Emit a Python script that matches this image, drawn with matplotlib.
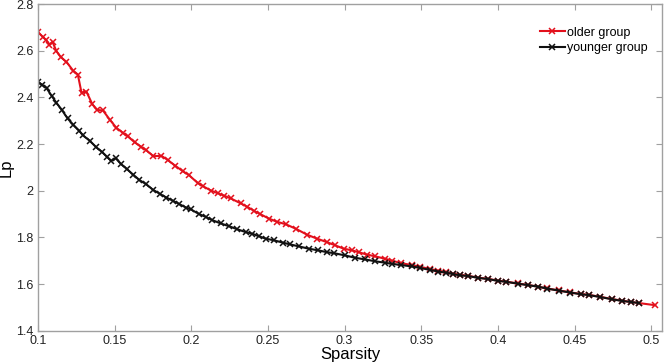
import numpy as np
import matplotlib
matplotlib.use('Agg')
import matplotlib.pyplot as plt

plt.rcParams['font.family'] = ['Liberation Sans', 'DejaVu Sans']

# older group (red)
older_x = [0.1000, 0.1030, 0.1055, 0.1075, 0.1095, 0.1120, 0.1150, 0.1186, 0.1230, 0.1260,
           0.1284, 0.1316, 0.1355, 0.1388, 0.1424, 0.1468, 0.1511, 0.1554, 0.1586, 0.1630,
           0.1673, 0.1706, 0.1753, 0.1805, 0.1846, 0.1896, 0.1944, 0.1983, 0.2041, 0.2078,
           0.2128, 0.2171, 0.2214, 0.2258, 0.2323, 0.2366, 0.2409, 0.2450, 0.2506, 0.2560,
           0.2615, 0.2680, 0.2755, 0.2820, 0.2885, 0.2940, 0.2994, 0.3048, 0.3091, 0.3145,
           0.3200, 0.3264, 0.3307, 0.3370, 0.3437, 0.3490, 0.3557, 0.3610, 0.3664, 0.3708,
           0.3751, 0.3805, 0.3870, 0.3935, 0.4000, 0.4054, 0.4130, 0.4195, 0.4264, 0.4320,
           0.4400, 0.4472, 0.4541, 0.4595, 0.4667, 0.4747, 0.4812, 0.4866, 0.4920, 0.5026]
older_lp = [2.680, 2.660, 2.645, 2.625, 2.638, 2.598, 2.572, 2.552, 2.514, 2.498,
            2.420, 2.425, 2.370, 2.346, 2.344, 2.305, 2.270, 2.248, 2.233, 2.208,
            2.188, 2.174, 2.148, 2.150, 2.132, 2.107, 2.084, 2.068, 2.034, 2.019,
            2.001, 1.990, 1.979, 1.967, 1.946, 1.931, 1.914, 1.900, 1.881, 1.867,
            1.857, 1.838, 1.812, 1.795, 1.780, 1.766, 1.752, 1.745, 1.737, 1.727,
            1.719, 1.709, 1.701, 1.690, 1.682, 1.675, 1.665, 1.658, 1.652, 1.645,
            1.640, 1.636, 1.628, 1.623, 1.615, 1.611, 1.603, 1.597, 1.589, 1.582,
            1.573, 1.565, 1.558, 1.554, 1.546, 1.536, 1.529, 1.524, 1.519, 1.510]

# younger group (black)
younger_x = [0.1000, 0.1025, 0.1056, 0.1089, 0.1120, 0.1154, 0.1193, 0.1230, 0.1268, 0.1294,
             0.1338, 0.1381, 0.1420, 0.1450, 0.1479, 0.1506, 0.1543, 0.1580, 0.1623, 0.1662,
             0.1706, 0.1749, 0.1797, 0.1838, 0.1881, 0.1922, 0.1966, 0.1998, 0.2052, 0.2095,
             0.2138, 0.2193, 0.2247, 0.2301, 0.2355, 0.2398, 0.2442, 0.2485, 0.2539, 0.2597,
             0.2647, 0.2701, 0.2766, 0.2827, 0.2885, 0.2929, 0.3004, 0.3069, 0.3134, 0.3200,
             0.3264, 0.3307, 0.3370, 0.3437, 0.3490, 0.3557, 0.3610, 0.3664, 0.3708, 0.3751,
             0.3805, 0.3870, 0.3935, 0.4000, 0.4054, 0.4130, 0.4195, 0.4264, 0.4320, 0.4400,
             0.4472, 0.4541, 0.4595, 0.4667, 0.4747, 0.4812, 0.4866, 0.4920]
younger_lp = [2.466, 2.455, 2.440, 2.407, 2.377, 2.348, 2.310, 2.283, 2.258, 2.237,
              2.214, 2.186, 2.165, 2.146, 2.128, 2.140, 2.114, 2.093, 2.068, 2.046,
              2.028, 2.005, 1.986, 1.971, 1.957, 1.943, 1.928, 1.920, 1.900, 1.888,
              1.874, 1.860, 1.848, 1.835, 1.823, 1.816, 1.805, 1.795, 1.788, 1.778,
              1.770, 1.762, 1.752, 1.745, 1.737, 1.733, 1.723, 1.713, 1.706, 1.698,
              1.692, 1.687, 1.682, 1.676, 1.670, 1.661, 1.654, 1.649, 1.643, 1.638,
              1.635, 1.627, 1.622, 1.614, 1.610, 1.602, 1.596, 1.589, 1.581, 1.572,
              1.564, 1.557, 1.553, 1.545, 1.535, 1.528, 1.524, 1.519]

x_ticks = [0.1, 0.15, 0.2, 0.25, 0.3, 0.35, 0.4, 0.45, 0.5]
y_ticks = [1.4, 1.6, 1.8, 2.0, 2.2, 2.4, 2.6, 2.8]

fig = plt.figure(figsize=(6.66, 3.64), dpi=100)
ax = fig.add_axes([0.057, 0.091, 0.937, 0.898])

ax.plot(older_x, older_lp, color='#e3101c', linestyle='-', linewidth=1.5,
        marker='x', markersize=4, markeredgewidth=1.1, label='older group')
ax.plot(younger_x, younger_lp, color='#111111', linestyle='-', linewidth=1.5,
        marker='x', markersize=4, markeredgewidth=1.1, label='younger group')

ax.set_xlim(0.1, 0.507)
ax.set_ylim(1.4, 2.8)
ax.set_xticks(x_ticks)
ax.set_xticklabels(['0.1', '0.15', '0.2', '0.25', '0.3', '0.35', '0.4', '0.45', '0.5'])
ax.set_yticks(y_ticks)
ax.set_yticklabels(['1.4', '1.6', '1.8', '2', '2.2', '2.4', '2.6', '2.8'])

for s in ax.spines.values():
    s.set_color('#a0a0a0')
    s.set_linewidth(1.0)
ax.tick_params(direction='in', length=4, width=0.8, color='#a0a0a0',
               top=True, right=True, labelsize=9, labelcolor='#222222', pad=3)

ax.set_xlabel('Sparsity', fontsize=12, labelpad=0)
ax.set_ylabel('Lp', fontsize=12, labelpad=2)

ax.legend(loc='upper right', bbox_to_anchor=(0.995, 0.965), frameon=False,
          fontsize=9, handlelength=2.0, handletextpad=0.2, labelspacing=0.3,
          borderaxespad=0.5)

fig.savefig('out.png', dpi=100)
